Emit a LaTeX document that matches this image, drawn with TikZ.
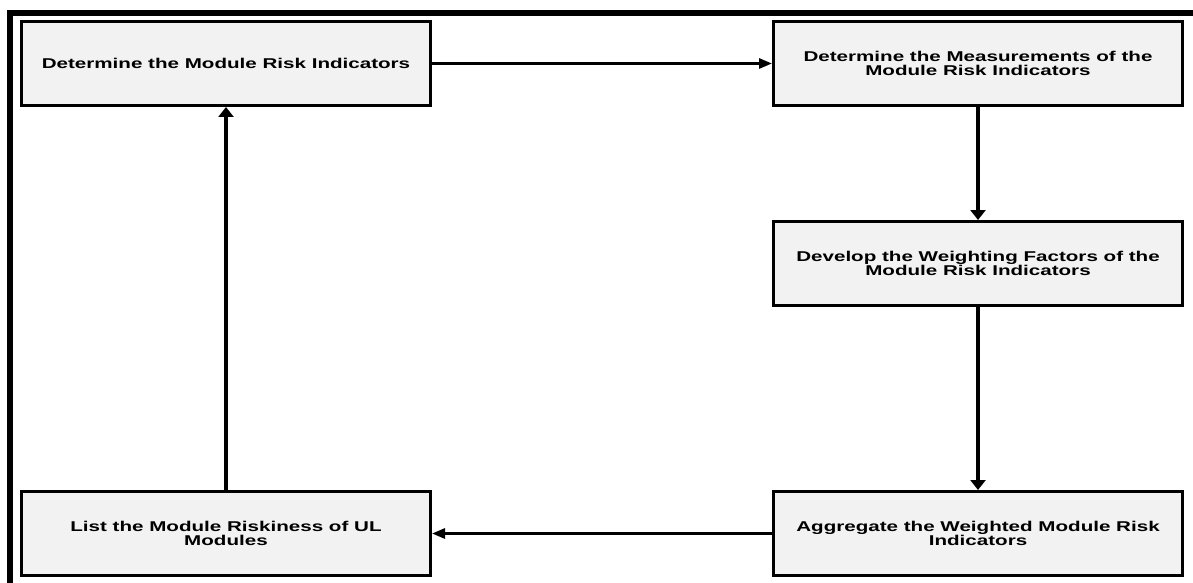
\documentclass[tikz,border=0pt]{standalone}
\usepackage{fontspec}
\setmainfont{Liberation Sans}[FakeStretch=1.45]
\usetikzlibrary{positioning,arrows.meta,shadows}
\definecolor{boxgray}{RGB}{242,242,242}
\definecolor{shadowblue}{RGB}{190,205,225}

\begin{document}
\begin{tikzpicture}[
  block/.style={rectangle, draw, line width=3pt, fill=boxgray,
    minimum width=409pt, minimum height=84pt, align=center,
    font=\fontsize{14.2pt}{14pt}\selectfont\bfseries,
    drop shadow={shadow xshift=1.5pt, shadow yshift=-1.5pt, fill=shadowblue, opacity=1}},
  harrow/.style={-{Triangle[length=13pt,width=10pt]}, line width=2.8pt},
  varrow/.style={-{Triangle[length=10pt,width=15pt]}, line width=3.4pt}
]
\useasboundingbox (0,0) rectangle (1193pt,-583pt);
\clip (0,0) rectangle (1193pt,-583pt);

% Outer frame
\draw[line width=5.5pt] (10pt,-700pt) |- (1260pt,-13pt);

% Top row
\node[block] (mri) at (226pt,-63.5pt) {Determine the Module Risk Indicators};
\node[block, right of=mri, node distance=752pt] (meas) {Determine the Measurements of the\\Module Risk Indicators};

% Right column
\node[block, below of=meas, node distance=200pt] (weight) {Develop the Weighting Factors of the\\Module Risk Indicators};
\node[block, below of=weight, node distance=270pt] (aggr) {Aggregate the Weighted Module Risk\\Indicators};

% Bottom left
\node[block, left of=aggr, node distance=752pt] (list) {List the Module Riskiness of UL\\Modules};

% Arrows
\draw[harrow] (mri) -- (meas);
\draw[varrow] (meas) -- (weight);
\draw[varrow] (weight) -- (aggr);
\draw[harrow] (aggr) -- (list);
\draw[varrow] (list) -- (mri);

\end{tikzpicture}
\end{document}
